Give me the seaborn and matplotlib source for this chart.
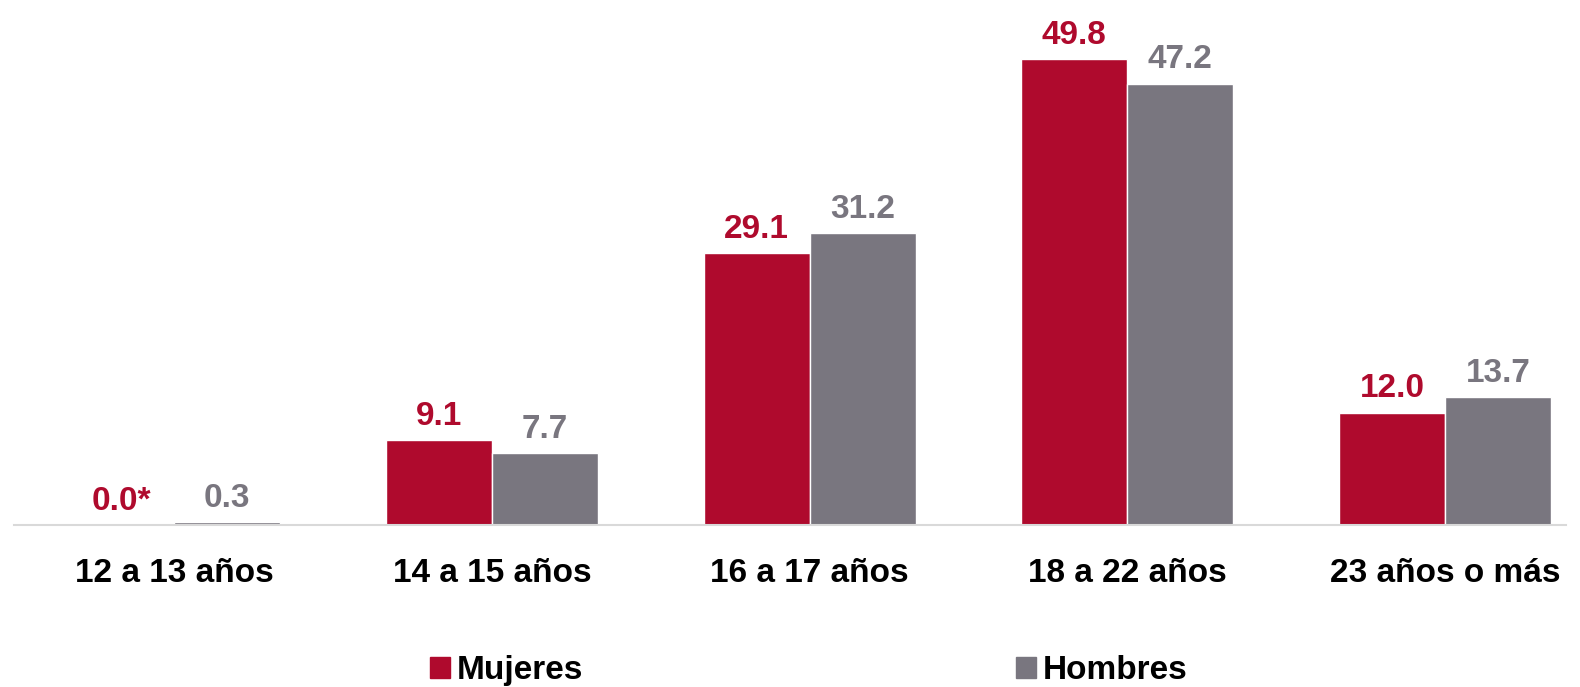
import pandas as pd
import seaborn as sns
import matplotlib.pyplot as plt
from matplotlib.patches import Patch

# datos
categorias = ["12 a 13 años", "14 a 15 años", "16 a 17 años", "18 a 22 años", "23 años o más"]
mujeres = [0.0, 9.1, 29.1, 49.8, 12.0]
hombres = [0.3, 7.7, 31.2, 47.2, 13.7]
etiquetas_mujeres = ["0.0*", "9.1", "29.1", "49.8", "12.0"]
etiquetas_hombres = ["0.3", "7.7", "31.2", "47.2", "13.7"]

rojo = "#AF0A2D"
gris = "#79767F"

df = pd.DataFrame({
    "grupo": categorias * 2,
    "sexo": ["Mujeres"] * 5 + ["Hombres"] * 5,
    "valor": mujeres + hombres,
})

sns.set_style("white")
plt.rcParams["font.family"] = ["Liberation Sans Narrow", "Liberation Sans", "DejaVu Sans"]
plt.rcParams["text.color"] = "black"

fig = plt.figure(figsize=(15.8, 6.87), dpi=100)
ax = fig.add_axes([0.0089, 0.2358, 0.9823, 0.7642])

sns.barplot(data=df, x="grupo", y="valor", hue="sexo", palette=[rojo, gris],
            width=0.667, ax=ax, legend=False, saturation=1)

for cont, labs, col in zip(ax.containers, [etiquetas_mujeres, etiquetas_hombres], [rojo, gris]):
    ax.bar_label(cont, labels=labs, padding=6, color=col, fontsize=24, fontweight="bold")

ax.set_ylim(0, 56.15)
ax.set_xlim(-0.504, 4.381)
ax.set_xlabel("")
ax.set_ylabel("")
ax.set_yticks([])
ax.tick_params(axis="x", length=0, pad=24, labelsize=24, labelcolor="black")
for t in ax.get_xticklabels():
    t.set_fontweight("bold")
for s in ["top", "right", "left"]:
    ax.spines[s].set_visible(False)
ax.spines["bottom"].set_color("#D9D9D9")
ax.spines["bottom"].set_linewidth(1.5)

handles = [Patch(color=rojo, label="Mujeres"), Patch(color=gris, label="Hombres")]
fig.legend(handles=handles, loc="center", bbox_to_anchor=(0.512, 0.024), ncol=2,
           frameon=False, prop={"size": 24, "weight": "bold"}, labelcolor="black",
           handlelength=0.6, handleheight=0.6, handletextpad=0.2, columnspacing=13)

fig.savefig("out.png", dpi=100)
